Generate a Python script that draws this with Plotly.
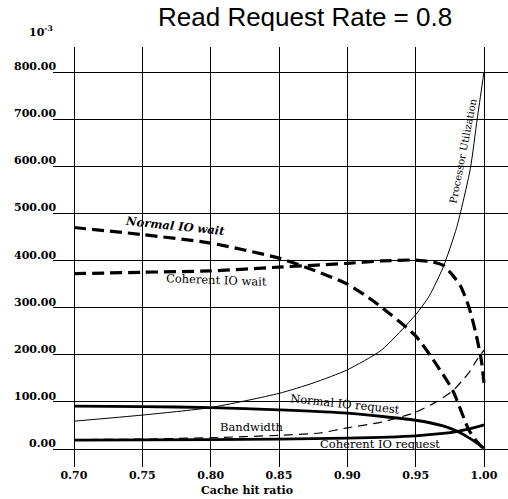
import plotly.graph_objects as go

# ---- data ----
x_proc = [0.70, 0.75, 0.80, 0.85, 0.875, 0.90, 0.925, 0.95, 0.96, 0.97, 0.98, 0.99, 0.995, 1.00]
y_proc = [59, 72, 88, 118, 140, 168, 210, 285, 325, 385, 470, 595, 700, 800]

x_niow = [0.70, 0.75, 0.80, 0.85, 0.875, 0.90, 0.92, 0.95, 0.965, 0.977, 0.989, 0.995, 1.00]
y_niow = [470, 455, 437, 405, 380, 350, 312, 240, 180, 125, 40, 15, 0]

x_ciow = [0.70, 0.75, 0.80, 0.85, 0.90, 0.925, 0.95, 0.962, 0.97, 0.977, 0.983, 0.989, 0.994, 0.998, 1.00]
y_ciow = [372, 375, 378, 386, 394, 399, 401, 397, 390, 369, 345, 301, 246, 189, 140]

x_nior = [0.70, 0.75, 0.80, 0.85, 0.90, 0.95, 0.97, 0.98, 0.99, 1.00]
y_nior = [91, 90, 88, 83, 76, 61, 49, 38, 22, 2]

x_bw = [0.70, 0.75, 0.80, 0.85, 0.88, 0.90, 0.925, 0.95, 0.965, 0.977, 0.984, 0.989, 0.995, 1.00]
y_bw = [20, 21, 24, 29, 34, 45, 57, 78, 100, 123, 145, 162, 190, 210]

x_cior = [0.70, 0.80, 0.85, 0.90, 0.95, 0.97, 0.98, 0.99, 1.00]
y_cior = [19, 20, 21, 23, 28, 33, 37, 43, 51]

x_ticks = [0.70, 0.75, 0.80, 0.85, 0.90, 0.95, 1.00]
x_ticklabels = ["0.70", "0.75", "0.80", "0.85", "0.90", "0.95", "1.00"]
y_ticks = [0, 100, 200, 300, 400, 500, 600, 700, 800]
y_ticklabels = ["0.00", "100.00", "200.00", "300.00", "400.00", "500.00", "600.00", "700.00", "800.00"]

title_text = "Read Request Rate = 0.8"
x_title = "Cache hit ratio"
scale_text = "10<sup>-3</sup>"

# curve labels: text, x, y, angle, style
curve_labels = [
    ("Normal IO wait", 0.774, 473, 6, "italic"),
    ("Coherent IO wait", 0.804, 359, 2, "normal"),
    ("Processor Utilization", 0.9846, 634, -79, "normal"),
    ("Normal IO request", 0.8983, 95, 6, "normal"),
    ("Bandwidth", 0.8302, 47, 0, "normal"),
    ("Coherent IO request", 0.9239, 11, 0, "normal"),
]

SERIF = "DejaVu Serif"

fig = go.Figure()

def add(x, y, width, dash):
    fig.add_trace(go.Scatter(x=x, y=y, mode="lines",
                             line=dict(color="black", width=width, dash=dash, shape="spline", smoothing=0.6),
                             showlegend=False, hoverinfo="skip"))

add(x_proc, y_proc, 1, "solid")
add(x_niow, y_niow, 3.2, "12px,6px")
add(x_ciow, y_ciow, 3.2, "12px,6px")
add(x_nior, y_nior, 2.8, "solid")
add(x_bw, y_bw, 1.2, "9px,6px")
add(x_cior, y_cior, 2.8, "solid")

annotations = []
for t, xv, yv, ang, sty in curve_labels:
    annotations.append(dict(text=t, x=xv, y=yv, xref="x", yref="y", showarrow=False,
                            textangle=ang,
                            font=dict(family=SERIF, size=10 if ang < -45 else 11.5, color="black", style=sty,
                                      weight="bold" if sty == "italic" else "normal")))

for v, lab in zip(y_ticks, y_ticklabels):
    annotations.append(dict(text=lab, x=0.011, y=v, xref="paper", yref="y", showarrow=False,
                            xanchor="right", yanchor="bottom", yshift=-3,
                            font=dict(family=SERIF, size=11, color="black", weight="bold")))

annotations.append(dict(text=title_text, x=0.554, y=1.071, xref="paper", yref="paper", showarrow=False,
                        xanchor="center", yanchor="middle",
                        font=dict(family="Liberation Sans", size=26, color="black")))
annotations.append(dict(text=scale_text, x=-0.026, y=1.036, xref="paper", yref="paper", showarrow=False,
                        xanchor="center", yanchor="middle",
                        font=dict(family=SERIF, size=11, color="black", weight="bold")))
annotations.append(dict(text=x_title, x=0.8266, y=-0.057, xref="x", yref="paper", showarrow=False,
                        xanchor="center", yanchor="middle",
                        font=dict(family=SERIF, size=11, color="black", weight="bold")))

fig.update_layout(
    width=508, height=499,
    margin=dict(l=53, r=0, t=47, b=32),
    paper_bgcolor="white", plot_bgcolor="white",
    annotations=annotations,
    hovermode=False,
    xaxis=dict(range=[0.68463, 1.01756], tickvals=x_ticks, ticktext=x_ticklabels,
               showgrid=True, gridcolor="black", gridwidth=1, zeroline=False, showline=False,
               ticks="", tickfont=dict(family=SERIF, size=11, color="black", weight="bold")),
    yaxis=dict(range=[-38.2, 853.05], tickvals=y_ticks, showticklabels=False,
               showgrid=True, gridcolor="black", gridwidth=1, zeroline=False, showline=False, ticks=""),
)

# remove the browser's default 8px body margin so the figure fills the window exactly
fig.write_html("out.html",
               config={"displayModeBar": False, "staticPlot": True},
               post_script="document.body.style.margin='0';document.body.style.overflow='hidden';")
